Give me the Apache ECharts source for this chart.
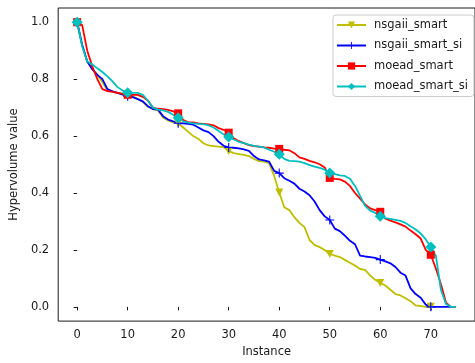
<!DOCTYPE html>
<html>
<head>
<meta charset="utf-8">
<script src="https://cdn.jsdelivr.net/npm/echarts@6/dist/echarts.min.js"></script>
<style>
  html, body { margin: 0; padding: 0; background: #fff; }
  #chart { width: 475px; height: 363px; }
</style>
</head>
<body>
<div id="chart"></div>
<script>
// Hypervolume per instance for four optimiser variants (instance index = array position)
const nsgaiiSmart = [
  1.0, 0.92, 0.862, 0.835, 0.815, 0.79, 0.76, 0.757, 0.752, 0.748,
  0.742, 0.74, 0.73, 0.72, 0.703, 0.695, 0.69, 0.665, 0.655, 0.648,
  0.645, 0.63, 0.615, 0.6, 0.59, 0.575, 0.567, 0.565, 0.563, 0.561,
  0.548, 0.54, 0.537, 0.534, 0.53, 0.52, 0.512, 0.51, 0.505, 0.46,
  0.402, 0.35, 0.34, 0.315, 0.295, 0.28, 0.235, 0.218, 0.21, 0.2,
  0.186, 0.18, 0.175, 0.165, 0.155, 0.145, 0.133, 0.13, 0.11, 0.095,
  0.084, 0.075, 0.06, 0.045, 0.04, 0.03, 0.02, 0.005, 0.003, 0.0,
  0.0
];
const nsgaiiSmartSi = [
  1.0, 0.92, 0.862, 0.835, 0.815, 0.8, 0.765, 0.757, 0.752, 0.746,
  0.74, 0.737, 0.73, 0.722, 0.705, 0.695, 0.693, 0.67, 0.658, 0.652,
  0.645, 0.645, 0.643, 0.64, 0.63, 0.62, 0.614, 0.6, 0.58, 0.566,
  0.56, 0.559, 0.557, 0.553, 0.548, 0.53, 0.518, 0.515, 0.51, 0.478,
  0.47, 0.452, 0.443, 0.433, 0.415, 0.405, 0.392, 0.37, 0.34, 0.318,
  0.305, 0.275, 0.266, 0.25, 0.232, 0.22, 0.18, 0.177, 0.175, 0.172,
  0.166, 0.16, 0.153, 0.14, 0.12, 0.11, 0.065, 0.045, 0.032, 0.008,
  0.0, 0.0, 0.0, 0.0, 0.0
];
const moeadSmart = [
  1.0, 0.99, 0.9, 0.845, 0.8, 0.765, 0.758, 0.755, 0.752, 0.748,
  0.745, 0.745, 0.745, 0.738, 0.725, 0.7, 0.696, 0.695, 0.692, 0.687,
  0.68, 0.656, 0.648, 0.648, 0.645, 0.643, 0.641, 0.638, 0.628, 0.622,
  0.612, 0.592, 0.582, 0.575, 0.568, 0.565, 0.563, 0.56, 0.559, 0.556,
  0.555, 0.552, 0.55, 0.54, 0.525, 0.52, 0.513, 0.508, 0.501, 0.49,
  0.453, 0.45, 0.448, 0.44, 0.425, 0.4, 0.38, 0.36, 0.346, 0.34,
  0.334, 0.31, 0.303, 0.297, 0.29, 0.282, 0.268, 0.255, 0.24, 0.2,
  0.183, 0.135, 0.08, 0.015, 0.0, 0.0
];
const moeadSmartSi = [
  1.0, 0.915, 0.862, 0.852, 0.838, 0.825, 0.81, 0.792, 0.772, 0.76,
  0.752, 0.752, 0.752, 0.745, 0.725, 0.7, 0.693, 0.69, 0.685, 0.675,
  0.664, 0.652, 0.647, 0.645, 0.643, 0.642, 0.638, 0.63, 0.618, 0.606,
  0.597, 0.588, 0.58, 0.575, 0.57, 0.566, 0.563, 0.56, 0.552, 0.545,
  0.536, 0.52, 0.513, 0.512, 0.51, 0.505, 0.498, 0.493, 0.488, 0.482,
  0.47, 0.466, 0.462, 0.46, 0.45, 0.425, 0.39, 0.355, 0.338, 0.33,
  0.318, 0.312, 0.309, 0.306, 0.302, 0.295, 0.283, 0.272, 0.258, 0.237,
  0.21, 0.18, 0.06, 0.01, 0.0, 0.0
];

const xTicks = [0, 10, 20, 30, 40, 50, 60, 70];
const yTicks = [0.0, 0.2, 0.4, 0.6, 0.8, 1.0];

const FONT = 'DejaVu Sans';
const INK = '#1a1a1a';
const MARK_EVERY = 10;

// thin "+" marker drawn as a filled cross
const PLUS = 'path://M4.4,0H5.6V4.4H10V5.6H5.6V10H4.4V5.6H0V4.4H4.4Z';

function makeSeries(name, values, color, symbol, size, rotate) {
  return {
    name: name,
    type: 'line',
    data: values.map((v, i) => ({
      value: [i, v],
      symbol: i % MARK_EVERY === 0 ? symbol : 'none'
    })),
    symbol: symbol,
    symbolSize: size,
    symbolRotate: rotate || 0,
    showSymbol: true,
    showAllSymbol: true,
    lineStyle: { color: color, width: 1.8 },
    itemStyle: { color: color, borderWidth: 0 },
    emphasis: { disabled: true },
    animation: false
  };
}

const chart = echarts.init(document.getElementById('chart'), null, { renderer: 'canvas' });
chart.setOption({
  animation: false,
  backgroundColor: '#fff',
  textStyle: { fontFamily: FONT },
  grid: {
    left: 55, top: 8, width: 421, height: 315,
    show: true, borderColor: INK, borderWidth: 1, backgroundColor: 'transparent'
  },
  legend: {
    orient: 'vertical',
    left: 333, top: 15,
    padding: [4, 6, 4, 3],
    itemWidth: 29, itemHeight: 9, itemGap: 8.5,
    borderColor: '#cccccc', borderWidth: 1, borderRadius: 3,
    backgroundColor: 'rgba(255,255,255,0.8)',
    textStyle: { fontFamily: FONT, fontSize: 11.5, color: INK, padding: [0, 0, 0, 3] },
    data: ['nsgaii_smart', 'nsgaii_smart_si', 'moead_smart', 'moead_smart_si']
  },
  xAxis: {
    type: 'value',
    min: -3.75, max: 78.75,
    name: 'Instance', nameLocation: 'middle', nameGap: 24,
    nameTextStyle: { fontFamily: FONT, fontSize: 11.5, color: INK },
    splitLine: { show: false },
    axisLine: { show: false },
    axisTick: { show: true, inside: false, length: 3.5, customValues: xTicks, lineStyle: { color: INK, width: 1 } },
    axisLabel: { customValues: xTicks, margin: 8, fontFamily: FONT, fontSize: 11.5, color: INK,
      formatter: v => String(v) }
  },
  yAxis: {
    type: 'value',
    min: -0.05, max: 1.05,
    name: 'Hypervolume value', nameLocation: 'middle', nameGap: 36, nameRotate: 90,
    nameTextStyle: { fontFamily: FONT, fontSize: 11.5, color: INK },
    splitLine: { show: false },
    axisLine: { show: false },
    axisTick: { show: true, inside: false, length: 3.5, customValues: yTicks, lineStyle: { color: INK, width: 1 } },
    axisLabel: { customValues: yTicks, margin: 9, fontFamily: FONT, fontSize: 11.5, color: INK,
      formatter: v => v.toFixed(1) }
  },
  series: [
    makeSeries('nsgaii_smart', nsgaiiSmart, '#bfbf00', 'triangle', 8, 180),
    makeSeries('nsgaii_smart_si', nsgaiiSmartSi, '#0000ff', PLUS, 9),
    makeSeries('moead_smart', moeadSmart, '#ff0000', 'rect', 8),
    makeSeries('moead_smart_si', moeadSmartSi, '#00bfbf', 'diamond', 11)
  ]
});
</script>
</body>
</html>
